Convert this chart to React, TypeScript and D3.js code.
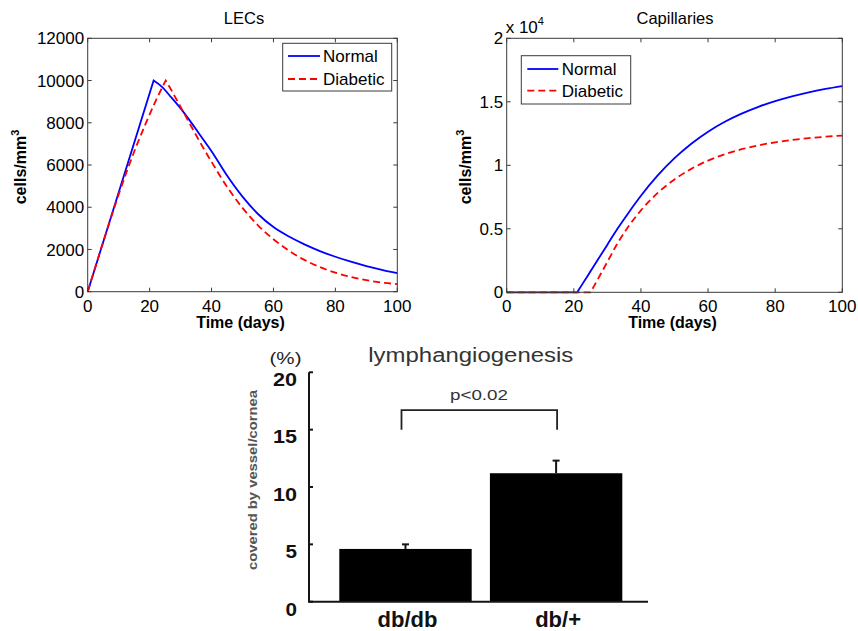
import React from 'react';
import * as d3 from 'd3';

// ---------- data ----------
const xTicks = [0, 20, 40, 60, 80, 100];
const seriesNames = ['Normal', 'Diabetic'];

const lecNormalDays = [0, 21.3, 24, 27, 30, 33, 36, 40, 45, 50, 55, 60, 65, 70, 75, 80, 85, 90, 95, 100];
const lecNormalValues = [0, 10000, 9700, 9200, 8680, 8100, 7480, 6650, 5500, 4500, 3680, 3060, 2610, 2240, 1925, 1655, 1420, 1215, 1035, 875];
const lecDiabeticDays = [0, 5, 10, 13, 16, 19, 22, 25.2, 27, 30, 33, 36, 40, 45, 50, 55, 60, 65, 70, 75, 80, 85, 90, 95, 100];
const lecDiabeticValues = [0, 2350, 4600, 5850, 7000, 8050, 9050, 10000, 9550, 8750, 7950, 7150, 6150, 4970, 3970, 3145, 2485, 1945, 1505, 1165, 900, 700, 545, 435, 360];
const lecYTicks = [0, 2000, 4000, 6000, 8000, 10000, 12000];

const capNormalDays = [0, 21, 24, 27, 30, 33, 36, 40, 45, 50, 55, 60, 65, 70, 75, 80, 85, 90, 95, 100];
const capNormalValues = [0, 0, 1250, 2500, 3750, 5000, 6150, 7600, 9200, 10560, 11700, 12650, 13430, 14070, 14605, 15050, 15430, 15750, 16015, 16240];
const capDiabeticDays = [0, 25, 27, 30, 33, 36, 40, 45, 50, 55, 60, 65, 70, 75, 80, 85, 90, 95, 100];
const capDiabeticValues = [0, 0, 960, 2400, 3850, 5080, 6450, 7825, 8890, 9720, 10370, 10875, 11265, 11570, 11810, 11995, 12140, 12250, 12340];
const capYTicks = [0, 5000, 10000, 15000, 20000];
const capYTickLabels = ['0', '0.5', '1', '1.5', '2'];

const barCategories = ['db/db', 'db/+'];
const barValues = [4.6, 11.2];
const barErrors = [0.4, 1.1];
const barYTicks = [0, 5, 10, 15, 20];
const bracketLevels = [15, 16.7];
const pLabel = 'p<0.02';

// ---------- helpers ----------
const FONT = "'Liberation Sans', Arial, Helvetica, sans-serif";
const BLUE = '#0000ff';
const RED = '#ff0000';
const AX = '#3a3a3a';

function splitPath(xs: number[], ys: number[], brk: number, x: any, y: any): string {
  const pts: [number, number][] = xs.map((d, i) => [x(d), y(ys[i])]);
  const line = d3.line().curve(d3.curveMonotoneX);
  const a = line(pts.slice(0, brk + 1)) as string;
  const b = line(pts.slice(brk)) as string;
  return a + b.replace(/^M/, 'L');
}

type Series = { days: number[]; values: number[]; brk: number; color: string; dash?: string };

function MatlabPanel(props: {
  x0: number; x1: number; y0: number; y1: number; yMax: number;
  yTicks: number[]; yTickLabels: string[]; title: string; titleX: number;
  ylabelX: number; series: Series[];
  legend: { x: number; y: number; w: number; h: number; row1: number; row2: number; lx0: number; lx1: number; tx: number };
  exponent?: boolean;
}) {
  const { x0, x1, y0, y1, yMax, yTicks, yTickLabels, title, titleX, ylabelX, series, legend, exponent } = props;
  const x = d3.scaleLinear().domain([0, 100]).range([x0, x1]);
  const y = d3.scaleLinear().domain([0, yMax]).range([y0, y1]);
  const tl = 4;
  return (
    <g fontFamily={FONT}>
      <text x={titleX} y={24} textAnchor="middle" fontSize={16.5}>{title}</text>
      {exponent && (
        <text x={x0 - 1} y={33} fontSize={17}>x 10<tspan dy={-8} fontSize={11}>4</tspan></text>
      )}
      {series.map((s, i) => (
        <path key={i} d={splitPath(s.days, s.values, s.brk, x, y)} fill="none" stroke={s.color}
          strokeWidth={1.8} strokeDasharray={s.dash} />
      ))}
      <rect x={x0} y={y1} width={x1 - x0} height={y0 - y1} fill="none" stroke={AX} strokeWidth={1} />
      {xTicks.map((t) => (
        <g key={'xt' + t}>
          <line x1={x(t)} x2={x(t)} y1={y0} y2={y0 - tl} stroke={AX} />
          <line x1={x(t)} x2={x(t)} y1={y1} y2={y1 + tl} stroke={AX} />
          <text x={x(t)} y={311.5} textAnchor="middle" fontSize={17}>{t}</text>
        </g>
      ))}
      {yTicks.map((t, i) => (
        <g key={'yt' + t}>
          <line x1={x0} x2={x0 + tl} y1={y(t)} y2={y(t)} stroke={AX} />
          <line x1={x1} x2={x1 - tl} y1={y(t)} y2={y(t)} stroke={AX} />
          <text x={x0 - 3.5} y={y(t)} dy="0.36em" textAnchor="end" fontSize={17}>{yTickLabels[i]}</text>
        </g>
      ))}
      <text x={(x0 + x1) / 2 - 2} y={328} textAnchor="middle" fontSize={16} fontWeight="bold">Time (days)</text>
      <text transform={`translate(${ylabelX},167) rotate(-90)`} textAnchor="middle" fontSize={16} fontWeight="bold">
        cells/mm<tspan dy={-7} fontSize={11}>3</tspan>
      </text>
      <rect x={legend.x} y={legend.y} width={legend.w} height={legend.h} fill="#fff" stroke={AX} strokeWidth={1} />
      {series.map((s, i) => {
        const ry = i === 0 ? legend.row1 : legend.row2;
        return (
          <g key={'lg' + i}>
            <line x1={legend.lx0} x2={legend.lx1} y1={ry} y2={ry} stroke={s.color} strokeWidth={1.8} strokeDasharray={s.dash} />
            <text x={legend.tx} y={ry} dy="0.36em" fontSize={17}>{seriesNames[i]}</text>
          </g>
        );
      })}
    </g>
  );
}

function BarPanel() {
  const yb = d3.scaleLinear().domain([0, 20]).range([601.7, 372.3]);
  const xb = d3.scaleBand().domain(barCategories).range([339.3, 622.3]).paddingInner(0.121).paddingOuter(0);
  const axX = 309;
  const ink = '#151515';
  const centers = barCategories.map((c) => (xb(c) as number) + xb.bandwidth() / 2);
  return (
    <g fontFamily={FONT}>
      <text x={285.5} y={364} textAnchor="middle" fontSize={16} fill="#222" textLength={32} lengthAdjust="spacingAndGlyphs">(%)</text>
      <text x={470.8} y={362.3} textAnchor="middle" fontSize={19.5} fill="#333" textLength={205} lengthAdjust="spacingAndGlyphs">lymphangiogenesis</text>
      <text transform={`translate(257,480) rotate(-90)`} textAnchor="middle" fontSize={13} fontWeight="bold" fill="#555"
        textLength={180} lengthAdjust="spacingAndGlyphs">covered by vessel/cornea</text>
      {barCategories.map((c, i) => (
        <g key={c}>
          <rect x={xb(c)} y={yb(barValues[i])} width={xb.bandwidth()} height={yb(0) - yb(barValues[i])} fill="#000" />
          <line x1={centers[i]} x2={centers[i]} y1={yb(barValues[i])} y2={yb(barValues[i] + barErrors[i])} stroke={ink} strokeWidth={2} />
          <line x1={centers[i] - 3.5} x2={centers[i] + 3.5} y1={yb(barValues[i] + barErrors[i])} y2={yb(barValues[i] + barErrors[i])} stroke={ink} strokeWidth={2} />
          <text x={centers[i] + 2} y={627} textAnchor="middle" fontSize={22} fontWeight="bold" fill="#111">{c}</text>
        </g>
      ))}
      <line x1={axX} x2={axX} y1={yb(20)} y2={yb(0)} stroke={ink} strokeWidth={2} />
      <line x1={axX - 1} x2={648} y1={yb(0)} y2={yb(0)} stroke={ink} strokeWidth={2} />
      {barYTicks.map((t) => (
        <g key={t}>
          <line x1={axX} x2={axX + 4} y1={yb(t)} y2={yb(t)} stroke={ink} strokeWidth={2} />
          <text x={297} y={yb(t) + 7} dy="0.36em" textAnchor="end" fontSize={19} fontWeight="bold" fill="#111"
            textLength={t < 10 ? 11.5 : 24} lengthAdjust="spacingAndGlyphs">{t}</text>
        </g>
      ))}
      <path d={`M${centers[0] - 4},${yb(bracketLevels[0])}V${yb(bracketLevels[1])}H${centers[1] + 1}V${yb(bracketLevels[0])}`}
        fill="none" stroke="#222" strokeWidth={1.8} />
      <text x={479} y={400} textAnchor="middle" fontSize={14.5} fill="#333" textLength={58} lengthAdjust="spacingAndGlyphs">{pLabel}</text>
    </g>
  );
}

export default function App() {
  return (
    <svg width={858} height={631} style={{ position: 'absolute', left: 0, top: 0, background: '#fff' }}>
      <rect width={858} height={631} fill="#fff" />
      <MatlabPanel x0={87.7} x1={397.3} y0={291.7} y1={38.3} yMax={12000}
        yTicks={lecYTicks} yTickLabels={lecYTicks.map(String)} title="LECs" titleX={244} ylabelX={26}
        series={[
          { days: lecNormalDays, values: lecNormalValues, brk: 1, color: BLUE },
          { days: lecDiabeticDays, values: lecDiabeticValues, brk: 7, color: RED, dash: '7,4' },
        ]}
        legend={{ x: 282.7, y: 43.3, w: 109, h: 47.7, row1: 56, row2: 79, lx0: 288, lx1: 320, tx: 323 }} />
      <MatlabPanel x0={506.7} x1={842.3} y0={292.3} y1={38.3} yMax={20000}
        yTicks={capYTicks} yTickLabels={capYTickLabels} title="Capillaries" titleX={675} ylabelX={471}
        series={[
          { days: capNormalDays, values: capNormalValues, brk: 1, color: BLUE },
          { days: capDiabeticDays, values: capDiabeticValues, brk: 1, color: RED, dash: '7,4' },
        ]}
        legend={{ x: 521.3, y: 55.7, w: 109.4, h: 48.3, row1: 69, row2: 90.7, lx0: 527.3, lx1: 558.3, tx: 561.7 }}
        exponent />
      <BarPanel />
    </svg>
  );
}
